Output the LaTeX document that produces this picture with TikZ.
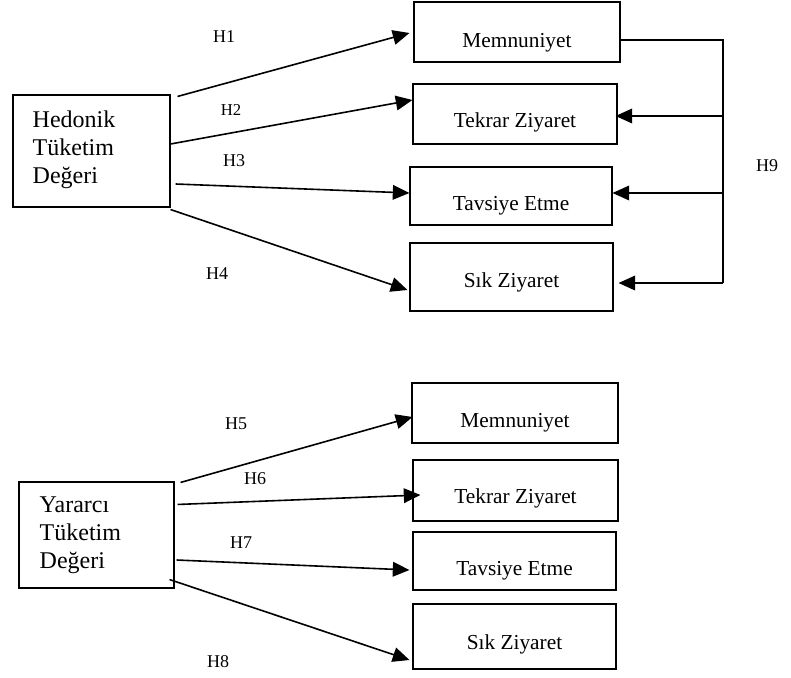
\documentclass[tikz,border=0pt]{standalone}
\usepackage{fontspec}
\setmainfont{Liberation Serif}
\usetikzlibrary{arrows.meta,calc,fit}
\begin{document}
\begin{tikzpicture}[x=0.75pt,y=-0.75pt,
  box/.style={draw, line width=0.8pt, inner sep=0pt},
  tlab/.style={font=\fontsize{16}{19}\selectfont, text height=0.68em, text depth=0.22em, inner sep=0pt},
  hlab/.style={font=\fontsize{13.5}{16}\selectfont, inner sep=0pt, text height=0.66em, text depth=0pt},
  src/.style={font=\fontsize{18}{21}\selectfont, align=left, inner sep=0pt, anchor=west},
  arr/.style={line width=1.2pt, -{Triangle[length=12.5pt,width=11pt]}},
  brk/.style={line width=1.2pt},
]
\useasboundingbox (0,0) rectangle (791,677);

% ---------- top group ----------
\node[box, fit={(13,95) (170,207)}] (h) {};
\node[src] (ht) at ($(h.west)+(20,-1)$) {Hedonik\\Tüketim\\Değeri};

\node[box, fit={(414,2) (620,62)}] (m1) {};
\node[tlab] (m1t) at ($(m1.center)+(0,12)$) {Memnuniyet};
\node[box, fit={(413,84) (617,144)}] (t1) {};
\node[tlab] (t1t) at ($(t1.center)+(0,10)$) {Tekrar Ziyaret};
\node[box, fit={(410,167) (612,225)}] (v1) {};
\node[tlab] (v1t) at ($(v1.center)+(0,11)$) {Tavsiye Etme};
\node[box, fit={(410,243) (613,311)}] (s1) {};
\node[tlab] (s1t) at ($(s1.center)+(0,7)$) {Sık Ziyaret};

\draw[arr] ($(h.north east)+(7,2)$) -- ($(m1.west)+(-4,1)$);
\draw[arr] ($(h.east)+(0,-7)$) -- ($(t1.west)+(0,-14)$);
\draw[arr] ($(h.east)+(5,33)$) -- ($(v1.west)+(0,-3)$);
\draw[arr] ($(h.south east)+(0,2)$) -- ($(s1.west)+(-2,13)$);

\node[hlab] (lh1) at (224,38) {H1};
\node[hlab, font=\fontsize{12.5}{15}\selectfont] (lh2) at (231,111) {H2};
\node[hlab] (lh3) at (234,162) {H3};
\node[hlab] (lh4) at (217,275) {H4};

% bracket H9
\coordinate (b0) at (723,40);
\coordinate (b1) at (723,116);
\coordinate (b2) at (723,193);
\coordinate (b3) at (723,283);
\draw[brk] ($(m1.east)+(0,8)$) -- (b0) -- (b3);
\draw[arr] (b1) -- ($(t1.east)+(-2,2)$);
\draw[arr] (b2) -- ($(v1.east)+(0,-3)$);
\draw[arr] (b3) -- ($(s1.east)+(5,6)$);
\node[hlab] (lh9) at (767,167) {H9};

% ---------- bottom group ----------
\node[box, fit={(19,482) (174,588)}] (u) {};
\node[src] (ut) at ($(u.west)+(21,0.5)$) {Yararcı\\Tüketim\\Değeri};

\node[box, fit={(412,383) (618,443)}] (m2) {};
\node[tlab] (m2t) at ($(m2.center)+(0,11)$) {Memnuniyet};
\node[box, fit={(413,460) (618,521)}] (t2) {};
\node[tlab] (t2t) at ($(t2.center)+(0,10)$) {Tekrar Ziyaret};
\node[box, fit={(413,532) (616,590)}] (v2) {};
\node[tlab] (v2t) at ($(v2.center)+(0,11)$) {Tavsiye Etme};
\node[box, fit={(413,604) (616,669)}] (s2) {};
\node[tlab] (s2t) at ($(s2.center)+(0,10)$) {Sık Ziyaret};

\draw[arr] ($(u.north east)+(6,1)$) -- ($(m2.west)+(1,4)$);
\draw[arr] ($(u.north east)+(3,23)$) -- ($(t2.west)+(8,4.5)$);
\draw[arr] ($(u.east)+(2,25)$) -- ($(v2.west)+(-3,9)$);
\draw[arr] ($(u.south east)+(-5,-9)$) -- ($(s2.west)+(-3,23.5)$);

\node[hlab] (lh5) at (236,425) {H5};
\node[hlab] (lh6) at (255,480) {H6};
\node[hlab] (lh7) at (241,544) {H7};
\node[hlab] (lh8) at (218,663) {H8};
\end{tikzpicture}
\end{document}
